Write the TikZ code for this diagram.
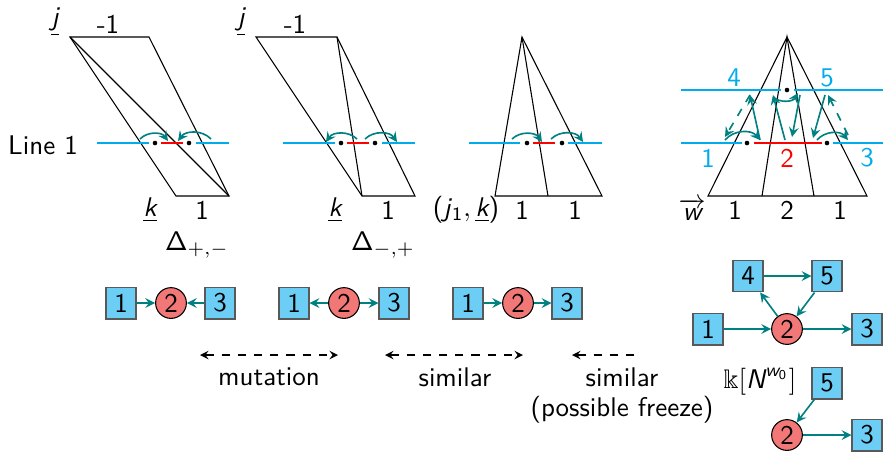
\documentclass[tikz,border=0pt]{standalone}
\usepackage{amsmath}
\usepackage{amssymb}
\usetikzlibrary{arrows}
\renewcommand{\familydefault}{\sfdefault}
\definecolor{lineblue}{RGB}{0,172,236}
\definecolor{boxblue}{RGB}{108,206,244}
\definecolor{nodered}{RGB}{242,120,120}
\definecolor{arrteal}{RGB}{0,128,128}
\newcommand{\sv}[1]{\textit{#1}}

\begin{document}
\begin{tikzpicture}[>=stealth,x=0.01302cm,y=0.01302cm]
	\tikzstyle{frozen}=[rectangle,draw=black!65,fill=boxblue,minimum width=0.39cm,minimum height=0.415cm,inner sep=0pt]
	\tikzstyle{mutable}=[circle,draw=black,fill=nodered,minimum size=0.40cm,inner sep=0pt]
	\tikzstyle{qarrow}=[arrteal,semithick,->]
	\tikzstyle{wall}=[lineblue,semithick]
	\tikzstyle{redseg}=[red,semithick]
	\tikzstyle{bendarrow}=[arrteal,semithick,->,bend angle=50]

	\useasboundingbox (0,0) rectangle (883,-451);

	% first parallelogram
	\coordinate (a1) at (70,-37);
	\coordinate (b1) at (149,-37);
	\coordinate (c1) at (176,-196);
	\coordinate (d1) at (229,-196);
	\draw (c1) -- (a1) -- (b1) -- (d1) -- cycle;
	\draw (a1) -- (d1);
	\node (j1) at (55,-22) {$\underline{\sv{j}}$};
	\node (m1) at (108,-24) {-1};
	\node (k1) at (150,-210) {$\underline{\sv{k}}$};
	\node (o1) at (202,-210) {1};
	\node (del1) at (197,-245) {$\mathsf{\Delta}_{+,-}$};
	\node (line1) at (43,-145) {Line 1};
	\draw [wall] (97,-143) -- (149,-143);
	\draw [redseg] (161,-143) -- (183,-143);
	\draw [wall] (196,-143) -- (229,-143);
	\fill (155,-143) circle (2.3);
	\fill (189,-143) circle (2.3);
	\draw [bendarrow] (140,-139) to[bend left] (168,-141);
	\draw [bendarrow] (211,-139) to[bend right] (178,-141);

	% second parallelogram
	\coordinate (a2) at (256,-37);
	\coordinate (b2) at (337,-37);
	\coordinate (c2) at (362,-196);
	\coordinate (d2) at (415,-196);
	\draw (c2) -- (a2) -- (b2) -- (d2) -- cycle;
	\draw (b2) -- (c2);
	\node (j2) at (241,-22) {$\underline{\sv{j}}$};
	\node (m2) at (295,-24) {-1};
	\node (k2) at (335,-210) {$\underline{\sv{k}}$};
	\node (o2) at (388,-210) {1};
	\node (del2) at (383,-245) {$\mathsf{\Delta}_{-,+}$};
	\draw [wall] (283,-143) -- (335,-143);
	\draw [redseg] (347,-143) -- (369,-143);
	\draw [wall] (382,-143) -- (415,-143);
	\fill (341,-143) circle (2.3);
	\fill (375,-143) circle (2.3);
	\draw [bendarrow] (357,-139) to[bend right] (326,-142);
	\draw [bendarrow] (365,-139) to[bend left] (397,-142);

	% triangle
	\coordinate (t3) at (522,-37);
	\coordinate (l3) at (495,-196);
	\coordinate (c3) at (548,-196);
	\coordinate (r3) at (602,-196);
	\draw (l3) -- (t3) -- (r3) -- cycle;
	\draw (t3) -- (c3);
	\node (jk3) at (466,-210) {(\sv{j}$_{\mathsf{1}},\underline{\sv{k}}$)};
	\node (o3a) at (522,-210) {1};
	\node (o3b) at (575,-210) {1};
	\draw [wall] (469,-143) -- (520,-143);
	\draw [redseg] (533,-143) -- (555,-143);
	\draw [wall] (568,-143) -- (602,-143);
	\fill (527,-143) circle (2.3);
	\fill (562,-143) circle (2.3);
	\draw [bendarrow] (512,-139) to[bend left] (542,-142);
	\draw [bendarrow] (551,-139) to[bend left] (583,-142);

	% big triangle
	\coordinate (t4) at (787,-37);
	\coordinate (p4a) at (708,-196);
	\coordinate (p4b) at (762,-196);
	\coordinate (p4c) at (814,-196);
	\coordinate (p4d) at (867,-196);
	\draw (p4a) -- (t4) -- (p4d) -- cycle;
	\draw (p4b) -- (t4) -- (p4c);
	\node [inner sep=1pt] (w4) at (692,-210) {$\overrightarrow{\sv{w}}$};
	\node (o4a) at (735,-210) {1};
	\node (o4b) at (787,-210) {2};
	\node (o4c) at (840,-210) {1};
	\draw [wall] (681,-90) -- (781,-90);
	\draw [wall] (794,-90) -- (883,-90);
	\fill (787,-90) circle (2.3);
	\draw [wall] (681,-143) -- (742,-143);
	\draw [redseg] (754,-143) -- (822,-143);
	\draw [wall] (833,-143) -- (883,-143);
	\fill (747,-143) circle (2.3);
	\fill (827,-143) circle (2.3);
	\node [text=lineblue] (n4) at (734,-78) {4};
	\node [text=lineblue] (n5) at (827,-78) {5};
	\node [text=lineblue] (n1) at (708,-158) {1};
	\node [text=red] (n2) at (787,-158) {2};
	\node [text=lineblue] (n3) at (867,-158) {3};
	\draw [qarrow,dashed] (750,-95) -- (725,-137);
	\draw [qarrow] (760,-140) -- (750,-95);
	\draw [bendarrow] (725,-140) to[bend left] (760,-140);
	\draw [qarrow] (785,-140) -- (773,-95);
	\draw [qarrow] (800,-95) -- (792,-137);
	\draw [bendarrow] (773,-97) to[bend right] (798,-93);
	\draw [qarrow] (825,-95) -- (813,-138);
	\draw [qarrow,dashed] (848,-135) -- (828,-95);
	\draw [bendarrow] (817,-140) to[bend left] (848,-140);

	% quivers
	\node [frozen] (qa1) at (121,-303) {1};
	\node [mutable] (qa2) at (171,-303) {2};
	\node [frozen] (qa3) at (220,-303) {3};
	\draw [qarrow] (qa1) -- (qa2);
	\draw [qarrow] (qa3) -- (qa2);

	\node [frozen] (qb1) at (294,-303) {1};
	\node [mutable] (qb2) at (344,-303) {2};
	\node [frozen] (qb3) at (394,-303) {3};
	\draw [qarrow] (qb2) -- (qb1);
	\draw [qarrow] (qb2) -- (qb3);

	\node [frozen] (qc1) at (468,-303) {1};
	\node [mutable] (qc2) at (518,-303) {2};
	\node [frozen] (qc3) at (567,-303) {3};
	\draw [qarrow] (qc1) -- (qc2);
	\draw [qarrow] (qc2) -- (qc3);

	\node [frozen] (qd4) at (748,-276) {4};
	\node [frozen] (qd5) at (827,-276) {5};
	\node [frozen] (qd1) at (708,-329) {1};
	\node [mutable] (qd2) at (787,-329) {2};
	\node [frozen] (qd3) at (867,-329) {3};
	\draw [qarrow] (qd4) -- (qd5);
	\draw [qarrow] (qd2) -- (qd4);
	\draw [qarrow] (qd5) -- (qd2);
	\draw [qarrow] (qd1) -- (qd2);
	\draw [qarrow] (qd2) -- (qd3);

	\node (ring) at (760,-382) {$\Bbbk[\sv{N}^{\sv{w}_{\mathsf{0}}}]$};
	\node [frozen] (qe5) at (827,-383) {5};
	\node [mutable] (qe2) at (787,-435) {2};
	\node [frozen] (qe3) at (867,-435) {3};
	\draw [qarrow] (qe5) -- (qe2);
	\draw [qarrow] (qe2) -- (qe3);

	% relations
	\coordinate (mutl) at (200,-355);
	\coordinate (mutr) at (338,-355);
	\draw [dashed,<->] (mutl) -- (mutr);
	\node (mut) at (269,-377) {mutation};
	\coordinate (siml) at (385,-355);
	\coordinate (simr) at (523,-355);
	\draw [dashed,<->] (siml) -- (simr);
	\node (sim) at (455,-377) {similar};
	\coordinate (frzl) at (572,-355);
	\coordinate (frzr) at (640,-355);
	\draw [dashed,<-] (frzl) -- (frzr);
	\node (frz) at (622,-377) {similar};
	\node (frzb) at (622,-410) {(possible freeze)};
\end{tikzpicture}
\end{document}
